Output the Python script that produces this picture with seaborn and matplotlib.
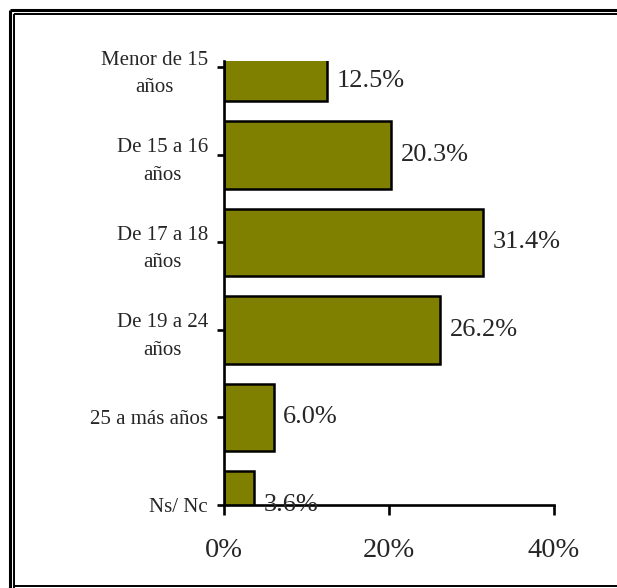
import matplotlib
matplotlib.use('Agg')
import matplotlib.pyplot as plt
import matplotlib.lines as mlines
import seaborn as sns
import pandas as pd

# datos
categorias = ['Menor de 15\naños', 'De 15 a 16\naños', 'De 17 a 18\naños',
              'De 19 a 24\naños', '25 a más años', 'Ns/ Nc']
porcentajes = [12.5, 20.3, 31.4, 26.2, 6.0, 3.6]
ticks_x = [0, 20, 40]

df = pd.DataFrame({'edad': categorias, 'pct': porcentajes})

sns.set_style('white')
plt.rcParams['font.family'] = ['Liberation Serif', 'DejaVu Serif']

W, H = 617, 588
fig = plt.figure(figsize=(W / 100, H / 100), dpi=100)
ax = fig.add_axes([224 / W, 1 - 505 / H, (554 - 224) / W, (505 - 61) / H])

sns.barplot(data=df, x='pct', y='edad', color='#808000', saturation=1,
            edgecolor='black', linewidth=1.8, width=0.77, ax=ax)

ax.set_xlim(0, 40)
ax.set_ylim(5, -0.074)
ax.set_xticks(ticks_x)
ax.set_xticklabels([f'{t}%' for t in ticks_x], fontsize=20.5)
ax.set_yticks(range(len(categorias)))
ax.set_yticklabels(categorias, fontsize=15, ha='right', multialignment='center',
                   linespacing=1.6)
ax.set_xlabel('')
ax.set_ylabel('')

sns.despine(ax=ax)
for s in ['left', 'bottom']:
    ax.spines[s].set_linewidth(1.9)
    ax.spines[s].set_color('black')
ax.tick_params(axis='x', length=7, width=1.9, pad=17, color='black', direction='out', bottom=True)
ax.tick_params(axis='y', length=5, width=1.9, pad=6.5, color='black', direction='out', left=True)

# etiquetas de valores
ymin_vis = ax.get_ylim()[1]
for i, v in enumerate(porcentajes):
    lo = max(i - 0.385, ymin_vis)
    hi = i + 0.385
    yl = max(i, (lo + hi) / 2)
    ax.annotate(f'{v:.1f}%', xy=(v, yl), xytext=(7, 0), textcoords='offset points',
                ha='left', va='center', fontsize=19, annotation_clip=False)

# marco exterior
def px(x, y):
    return x / W, 1 - y / H

for (x0, y0), (x1, y1), lw in [
    (px(9.5, 588), px(9.5, 9.5), 2.2),
    (px(9.5, 9.5), px(617, 9.5), 2.2),
    (px(14, 588), px(14, 14), 1.4),
    (px(14, 14), px(617, 14), 1.4),
    (px(14, 586), px(617, 586), 1.4),
]:
    fig.add_artist(mlines.Line2D([x0, x1], [y0, y1], color='black', lw=lw,
                                 solid_capstyle='butt'))

fig.savefig('out.png', dpi=100)
